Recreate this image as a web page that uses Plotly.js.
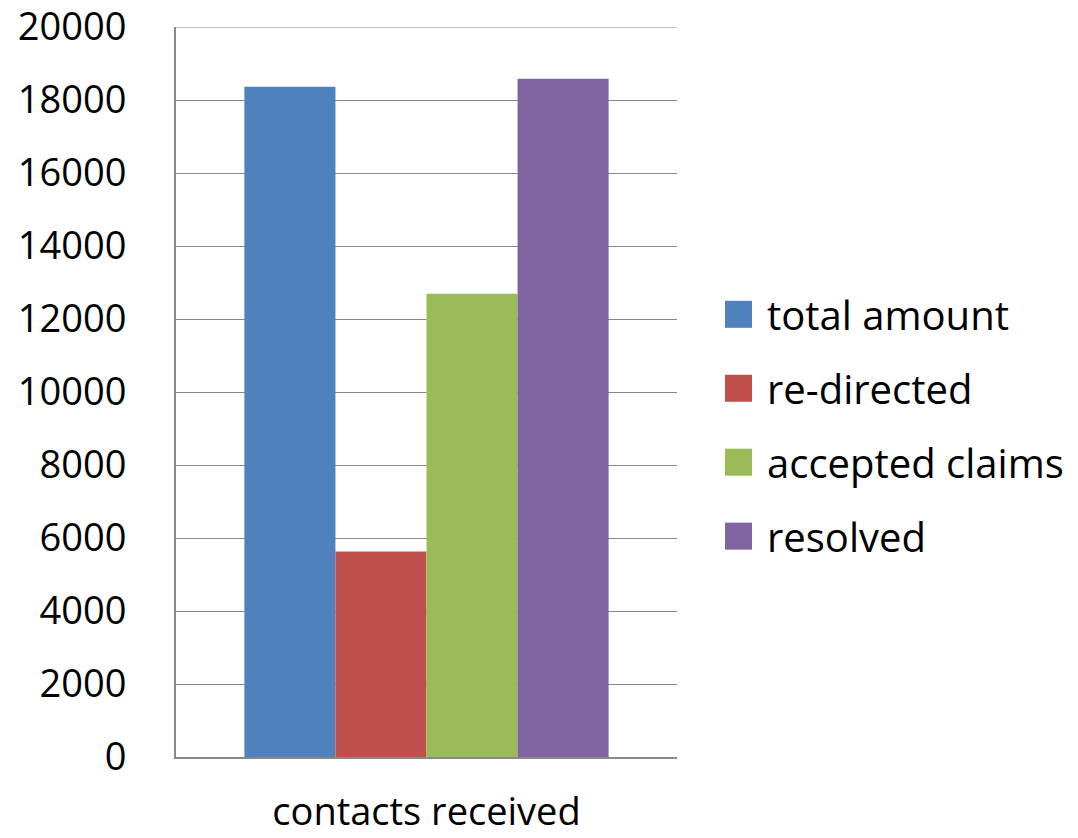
<!DOCTYPE html>
<html>
<head>
<meta charset="utf-8">
<script src="https://cdn.plot.ly/plotly-3.0.1.min.js"></script>
<style>html,body{margin:0;padding:0;background:#fff;}#chart{width:1078px;height:838px;}</style>
</head>
<body>
<div id="chart"></div>
<script>
const categories = ["contacts received"];
const seriesNames = ["total amount", "re-directed", "accepted claims", "resolved"];
const seriesColors = ["#4F81BD", "#C0504D", "#9BBB59", "#8064A2"];
const totalAmount = [18360];
const reDirected = [5630];
const acceptedClaims = [12690];
const resolved = [18580];
const seriesValues = [totalAmount, reDirected, acceptedClaims, resolved];
const yTickVals = [0, 2000, 4000, 6000, 8000, 10000, 12000, 14000, 16000, 18000, 20000];

const W = 1078, H = 838;
const M = {l: 176, r: 401, t: 27, b: 80.5};
const plotW = W - M.l - M.r, plotH = H - M.t - M.b;
const px2x = p => (p - M.l) / plotW;
const py2y = p => (H - M.b - p) / plotH;

const FONT = "Open Sans, Lato, DejaVu Sans, sans-serif";

const traces = seriesNames.map((name, i) => ({
  type: "bar",
  name: name,
  x: categories,
  y: seriesValues[i],
  marker: {color: seriesColors[i], line: {width: 0}},
  showlegend: false,
  hoverinfo: "name+y"
}));

const shapes = [];
const annotations = [];
const legendX0 = 725, legendSize = 27, legendTextX = 765;
const legendY0 = 314.5, legendStep = 74;
seriesNames.forEach((name, i) => {
  const cy = legendY0 + i * legendStep;
  shapes.push({
    type: "rect", xref: "paper", yref: "paper",
    x0: px2x(legendX0), x1: px2x(legendX0 + legendSize),
    y0: py2y(cy + legendSize / 2), y1: py2y(cy - legendSize / 2),
    fillcolor: seriesColors[i], line: {width: 0}
  });
  annotations.push({
    xref: "paper", yref: "paper", x: px2x(legendTextX), y: py2y(cy),
    xanchor: "left", yanchor: "middle", showarrow: false,
    text: name, font: {family: FONT, size: 40, color: "#000"}
  });
});
// top gridline at the range end
shapes.push({
  type: "line", xref: "paper", yref: "y", x0: 0, x1: 1,
  y0: yTickVals[yTickVals.length - 1], y1: yTickVals[yTickVals.length - 1],
  line: {color: "#888888", width: 1}
});

const layout = {
  width: W, height: H,
  margin: {l: M.l, r: M.r, t: M.t, b: M.b, pad: 0},
  paper_bgcolor: "#fff", plot_bgcolor: "#fff",
  barmode: "group",
  bargap: 0.273,
  bargroupgap: 0,
  showlegend: false,
  font: {family: FONT, size: 40, color: "#000"},
  xaxis: {
    type: "category",
    showgrid: false,
    showline: true, linecolor: "#898989", linewidth: 2,
    ticks: "", ticklabelstandoff: 20,
    ticklabeloverflow: "allow",
    tickfont: {family: FONT, size: 38, color: "#000"},
    zeroline: false, fixedrange: true
  },
  yaxis: {
    range: [0, 20000.01],
    tickvals: yTickVals,
    ticktext: yTickVals.map(v => String(v)),
    ticklabeloverflow: "allow",
    showgrid: true, gridcolor: "#888888", gridwidth: 1,
    showline: true, linecolor: "#898989", linewidth: 2,
    ticks: "", ticklabelstandoff: 40,
    tickfont: {family: FONT, size: 38, color: "#000"},
    zeroline: false, fixedrange: true
  },
  shapes: shapes,
  annotations: annotations
};

Plotly.newPlot("chart", traces, layout, {displayModeBar: false, staticPlot: true});
</script>
</body>
</html>
